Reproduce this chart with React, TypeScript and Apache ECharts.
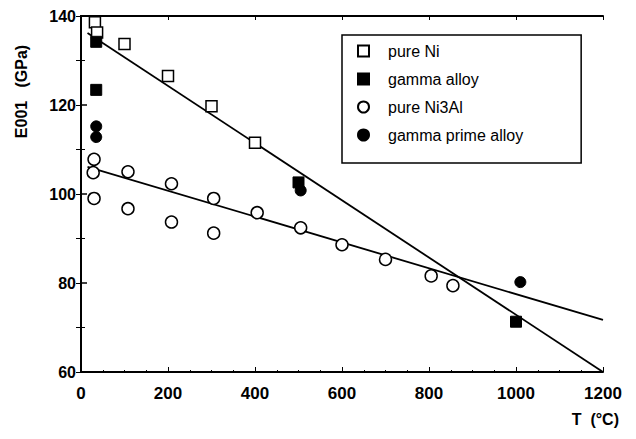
import React, { useEffect, useRef } from "react";
import * as echarts from "echarts";

const pureNiX = [32, 37, 100, 200, 300, 400];
const pureNiY = [138.6, 136.3, 133.7, 126.5, 119.7, 111.5];

const gammaAlloyX = [35, 35, 500, 1000];
const gammaAlloyY = [134.2, 123.4, 102.6, 71.3];

const pureNi3AlX = [30, 28, 30, 108, 108, 208, 208, 305, 305, 405, 505, 600, 700, 805, 855];
const pureNi3AlY = [107.8, 104.8, 99, 105, 96.7, 102.3, 93.7, 99, 91.2, 95.8, 92.4, 88.6, 85.3, 81.6, 79.4];

const gammaPrimeX = [35, 35, 505, 1010];
const gammaPrimeY = [115.2, 112.8, 100.8, 80.2];

const fitNiX = [15, 1200];
const fitNiY = [136.2, 60];
const fitNi3AlX = [15, 1200];
const fitNi3AlY = [106.1, 71.7];

const xTicks = [0, 200, 400, 600, 800, 1000, 1200];
const yTicks = [60, 80, 100, 120, 140];

const zip = (xs: number[], ys: number[]) => xs.map((x, i) => [x, ys[i]]);

const FONT = "'Liberation Sans', Arial, sans-serif";

export default function App() {
  const ref = useRef<HTMLDivElement>(null);
  useEffect(() => {
    document.body.style.margin = "0";
    const chart = echarts.init(ref.current!, undefined, { renderer: "svg" });
    const open = { color: "#fff", borderColor: "#000", borderWidth: 1.5, opacity: 1 };
    const filled = { color: "#000", borderColor: "#000", borderWidth: 1, opacity: 1 };
    chart.setOption({
      animation: false,
      backgroundColor: "#fff",
      textStyle: { fontFamily: FONT, color: "#000" },
      grid: { left: 81, right: 33, top: 16, bottom: 67 },
      legend: {
        orient: "vertical",
        left: 342,
        top: 35,
        itemWidth: 11,
        itemHeight: 11,
        itemGap: 12,
        padding: [8, 58, 20, 15],
        borderColor: "#000",
        borderWidth: 1.5,
        backgroundColor: "#fff",
        textStyle: { fontSize: 16, color: "#000", fontFamily: FONT, padding: [0, 0, 0, 14] },
        data: [
          { name: "pure Ni", icon: "rect" },
          { name: "gamma alloy", icon: "rect" },
          { name: "pure Ni3Al", icon: "circle" },
          { name: "gamma prime alloy", icon: "circle" },
        ],
      },
      xAxis: [
        {
          type: "value",
          min: xTicks[0],
          max: xTicks[xTicks.length - 1],
          interval: 200,
          position: "bottom",
          axisLine: { show: true, lineStyle: { color: "#000", width: 2 } },
          axisTick: { show: true, inside: true, length: 5, lineStyle: { color: "#000" } },
          minorTick: { show: true, splitNumber: 4, length: 2, lineStyle: { color: "#000" } },
          splitLine: { show: false },
          axisLabel: {
            margin: 13,
            fontSize: 17,
            fontWeight: "bold",
            color: "#000",
            fontFamily: FONT,
            formatter: (v: number) => String(v),
          },
          name: "T  (°C)",
          nameLocation: "end",
          nameGap: 16,
          nameTextStyle: {
            align: "right",
            verticalAlign: "top",
            padding: [39, 0, 0, 0],
            fontSize: 16,
            fontWeight: "bold",
            color: "#000",
            fontFamily: FONT,
          },
        },
        {
          type: "value",
          min: xTicks[0],
          max: xTicks[xTicks.length - 1],
          interval: 200,
          position: "top",
          axisLine: { show: true, lineStyle: { color: "#000", width: 2 } },
          axisTick: { show: true, inside: true, length: 4, lineStyle: { color: "#000" } },
          axisLabel: { show: false },
          splitLine: { show: false },
        },
      ],
      yAxis: [
        {
          type: "value",
          min: yTicks[0],
          max: yTicks[yTicks.length - 1],
          interval: 20,
          position: "left",
          axisLine: { show: true, lineStyle: { color: "#000", width: 2 } },
          axisTick: { show: true, inside: true, length: 6, lineStyle: { color: "#000", width: 1.5 } },
          minorTick: { show: true, splitNumber: 2, length: 4, lineStyle: { color: "#000" } },
          splitLine: { show: false },
          axisLabel: { margin: 5, fontSize: 16, fontWeight: "bold", color: "#000", fontFamily: FONT },
          name: "E001   (GPa)",
          nameLocation: "middle",
          nameRotate: 90,
          nameGap: 52,
          nameTextStyle: { fontSize: 16, fontWeight: "bold", color: "#000", fontFamily: FONT, padding: [0, 0, 0, 205] },
        },
        {
          type: "value",
          min: yTicks[0],
          max: yTicks[yTicks.length - 1],
          interval: 10,
          position: "right",
          axisLine: { show: true, lineStyle: { color: "#000", width: 2 } },
          axisTick: { show: true, inside: true, length: 5, lineStyle: { color: "#000" } },
          axisLabel: { show: false },
          splitLine: { show: false },
        },
      ],
      series: [
        {
          name: "fit Ni",
          type: "line",
          data: zip(fitNiX, fitNiY),
          showSymbol: false,
          lineStyle: { color: "#000", width: 1.8 },
          z: 1,
        },
        {
          name: "fit Ni3Al",
          type: "line",
          data: zip(fitNi3AlX, fitNi3AlY),
          showSymbol: false,
          lineStyle: { color: "#000", width: 1.8 },
          z: 1,
        },
        {
          name: "pure Ni",
          type: "scatter",
          symbol: "rect",
          symbolSize: 11,
          data: zip(pureNiX, pureNiY),
          itemStyle: open,
          z: 3,
        },
        {
          name: "gamma alloy",
          type: "scatter",
          symbol: "rect",
          symbolSize: 11,
          data: zip(gammaAlloyX, gammaAlloyY),
          itemStyle: filled,
          z: 4,
        },
        {
          name: "pure Ni3Al",
          type: "scatter",
          symbol: "circle",
          symbolSize: 12,
          data: zip(pureNi3AlX, pureNi3AlY),
          itemStyle: open,
          z: 3,
        },
        {
          name: "gamma prime alloy",
          type: "scatter",
          symbol: "circle",
          symbolSize: 11,
          data: zip(gammaPrimeX, gammaPrimeY),
          itemStyle: filled,
          z: 4,
        },
      ],
    });
    return () => chart.dispose();
  }, []);
  return <div ref={ref} style={{ width: 636, height: 439 }} />;
}
